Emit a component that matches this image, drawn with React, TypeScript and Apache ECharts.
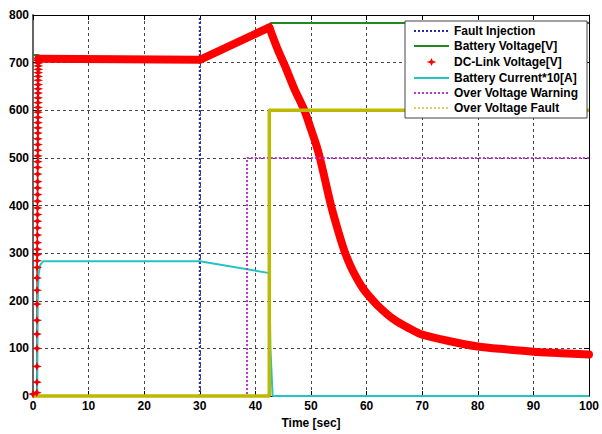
import React, { useEffect, useRef } from "react";
import * as echarts from "echarts";

// ---- data ----
const faultInjX = [30, 30];
const faultInjV = [0, 800];

const battVoltX = [0, 1.0, 1.3, 30, 42.5, 42.7, 100];
const battVoltV = [716, 716, 708, 706, 774, 783, 783];

const dcRampX = [
  0, 0.68, 0.7, 0.7, 0.71, 0.71, 0.72, 0.72, 0.73, 0.73,
  0.74, 0.75, 0.76, 0.77, 0.78, 0.78, 0.79, 0.8, 0.8, 0.81,
  0.81, 0.82, 0.82, 0.83, 0.83, 0.84, 0.84, 0.85, 0.85, 0.86,
  0.86, 0.87, 0.87, 0.88, 0.88, 0.89, 0.89, 0.9, 0.9, 0.91,
  0.91, 0.92, 0.92, 0.93, 0.93, 0.94, 0.94, 0.95, 0.95, 0.95,
];
const dcRampV = [
  4, 7, 29, 62, 100, 130, 159, 193, 222, 248,
  270, 284, 297, 308, 322, 338, 353, 367, 381, 395,
  409, 423, 437, 450, 466, 480, 492, 504, 516, 528,
  540, 552, 563, 574, 585, 596, 606, 616, 626, 636,
  645, 654, 663, 671, 679, 686, 693, 699, 704, 708,
];

// flat + rise part of the DC-link voltage
const dcRiseX = [0.95, 30, 42.5];
const dcRiseV = [708, 706, 774];
// decay part of the DC-link voltage
const dcDecayX = [42.5, 44, 45.5, 47, 48.8, 50, 51, 51.6, 52.6, 53.6, 54.8, 56, 57, 58, 59, 60, 62, 65, 68, 70, 75, 80, 85, 90, 95, 100];
const dcDecayV = [774, 728, 688, 645, 600, 560, 525, 500, 450, 400, 350, 305, 276, 252, 232, 216, 190, 160, 140, 129, 115, 104, 98, 93, 90, 87];

const battCurX = [0, 0.75, 0.85, 1.0, 1.3, 1.8, 30, 42.5, 42.7, 43.1, 100];
const battCurV = [0, 0, 200, 255, 275, 283, 283, 258, 100, 0, 0];

const warnX = [0, 38.5, 38.5, 100];
const warnV = [0, 0, 500, 500];

const ovFaultX = [0, 42.5, 42.5, 100];
const ovFaultV = [0, 0, 600, 600];

const seriesNames = [
  "Fault Injection",
  "Battery Voltage[V]",
  "DC-Link Voltage[V]",
  "Battery Current*10[A]",
  "Over Voltage Warning",
  "Over Voltage Fault",
];

const xTitle = "Time [sec]";

// ---- helpers ----
const zip = (xs: number[], vs: number[]) => xs.map((x, i) => [x, vs[i]]);
const FONT = "'Liberation Sans', Arial, sans-serif";
const starPath = "path://M0,-4L1.3,-1.2L5,0L1.3,1.2L0,4L-1.3,1.2L-5,0L-1.3,-1.2Z";
const starLegendPath = "path://M-7,-7M7,7M0,-4L1.3,-1.2L5,0L1.3,1.2L0,4L-1.3,1.2L-5,0L-1.3,-1.2Z";
const noSym = { opacity: 0 };

export default function App() {
  const ref = useRef<HTMLDivElement>(null);
  useEffect(() => {
    const chart = echarts.init(ref.current!, null, { renderer: "svg" });
    const labelStyle = { fontFamily: FONT, fontWeight: "bold" as const, fontSize: 12, color: "#000" };
    const red = "#ff0000";
    chart.setOption({
      animation: false,
      backgroundColor: "#fff",
      grid: { left: 33, right: 9, top: 15, bottom: 34, containLabel: false },
      legend: {
        orient: "vertical",
        left: 405,
        top: 21,
        padding: [4, 9, 4, 8],
        itemWidth: 35,
        itemHeight: 14,
        itemGap: 3,
        backgroundColor: "#fff",
        borderColor: "#444",
        borderWidth: 1,
        borderRadius: 0,
        selectedMode: false,
        textStyle: { ...labelStyle },
        data: [
          { name: seriesNames[0], itemStyle: noSym },
          { name: seriesNames[1], itemStyle: noSym },
          { name: seriesNames[2], icon: starLegendPath, itemStyle: { color: red } },
          { name: seriesNames[3], itemStyle: noSym },
          { name: seriesNames[4], itemStyle: noSym },
          { name: seriesNames[5], itemStyle: noSym, lineStyle: { type: [2, 2], color: "#d4d466", width: 2 } },
        ],
      },
      xAxis: [
        {
          type: "value",
          min: 0,
          max: 100,
          interval: 10,
          name: xTitle,
          nameLocation: "middle",
          nameGap: 21,
          nameTextStyle: labelStyle,
          axisLine: { show: true, onZero: false, lineStyle: { color: "#000", width: 1 } },
          axisTick: { show: true, inside: true, length: 5, lineStyle: { color: "#000" } },
          axisLabel: { ...labelStyle, margin: 4 },
          splitLine: { show: true, lineStyle: { color: "#444", type: [3, 3], width: 1 } },
        },
        {
          type: "value",
          position: "top",
          min: 0,
          max: 100,
          interval: 10,
          axisLine: { show: true, onZero: false, lineStyle: { color: "#000", width: 1 } },
          axisTick: { show: true, inside: true, length: 5, lineStyle: { color: "#000" } },
          axisLabel: { show: false },
          splitLine: { show: false },
        },
      ],
      yAxis: [
        {
          type: "value",
          min: 0,
          max: 800,
          interval: 100,
          axisLine: { show: true, onZero: false, lineStyle: { color: "#666", width: 2 } },
          axisTick: { show: true, inside: true, length: 5, lineStyle: { color: "#000" } },
          axisLabel: { ...labelStyle, margin: 4 },
          splitLine: { show: true, lineStyle: { color: "#444", type: [3, 3], width: 1 } },
        },
        {
          type: "value",
          position: "right",
          min: 0,
          max: 800,
          interval: 100,
          axisLine: { show: true, onZero: false, lineStyle: { color: "#000", width: 1 } },
          axisTick: { show: true, inside: true, length: 5, lineStyle: { color: "#000" } },
          axisLabel: { show: false },
          splitLine: { show: false },
        },
      ],
      series: [
        {
          name: seriesNames[0],
          type: "line",
          data: zip(faultInjX, faultInjV),
          symbol: "none",
          clip: false,
          lineStyle: { color: "#2a2aa0", width: 2, type: [2, 2] },
          itemStyle: { color: "#2a2aa0" },
        },
        {
          name: seriesNames[1],
          type: "line",
          data: zip(battVoltX, battVoltV),
          symbol: "none",
          clip: false,
          lineStyle: { color: "#1f8a1f", width: 2 },
          itemStyle: { color: "#1f8a1f" },
        },
        {
          name: "DC-Link rise",
          type: "line",
          data: zip(dcRiseX, dcRiseV),
          symbol: "none",
          clip: false,
          lineStyle: { color: red, width: 8, join: "round", cap: "round" },
          itemStyle: { color: red },
        },
        {
          name: "DC-Link decay",
          type: "line",
          data: zip(dcDecayX, dcDecayV),
          symbol: "none",
          smooth: 0.3,
          clip: false,
          lineStyle: { color: red, width: 8, join: "round", cap: "round" },
          itemStyle: { color: red },
        },
        {
          name: seriesNames[2],
          type: "line",
          data: zip(dcRampX, dcRampV),
          symbol: starPath,
          symbolSize: [10, 9],
          showAllSymbol: true,
          clip: false,
          lineStyle: { color: red, width: 1.5 },
          itemStyle: { color: "#ee0000" },
        },
        {
          name: seriesNames[3],
          type: "line",
          data: zip(battCurX, battCurV),
          symbol: "none",
          clip: false,
          lineStyle: { color: "#22c4c4", width: 2 },
          itemStyle: { color: "#22c4c4" },
        },
        {
          name: seriesNames[4],
          type: "line",
          data: zip(warnX, warnV),
          symbol: "none",
          clip: false,
          lineStyle: { color: "#b838c8", width: 2, type: [2, 2] },
          itemStyle: { color: "#b838c8" },
        },
        {
          name: seriesNames[5],
          type: "line",
          data: zip(ovFaultX, ovFaultV),
          symbol: "none",
          clip: false,
          lineStyle: { color: "#bdb800", width: 3.5 },
          itemStyle: { color: "#bdb800" },
        },
      ],
    });
    return () => chart.dispose();
  }, []);
  return (
    <div
      ref={ref}
      style={{ position: "fixed", left: 0, top: 0, width: 602, height: 434, background: "#fff" }}
    />
  );
}
